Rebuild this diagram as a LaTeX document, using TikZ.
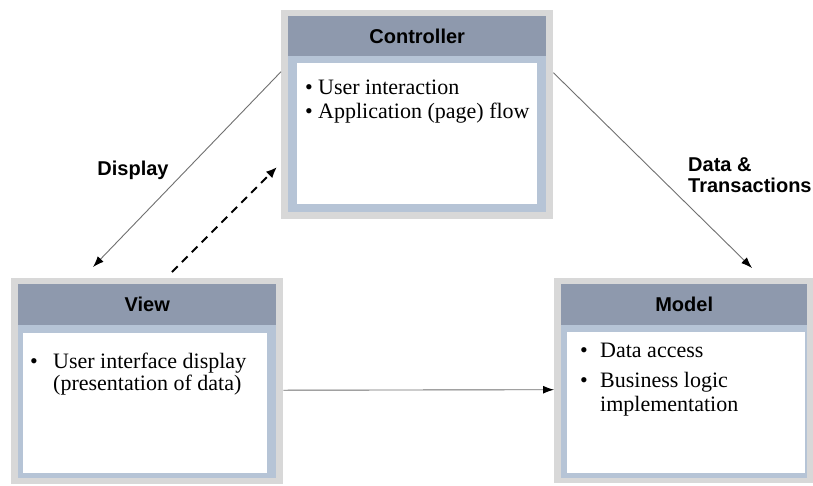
\documentclass[tikz,border=0pt]{standalone}
\usepackage{fontspec}
\setmainfont{Liberation Serif}
\newfontfamily\hsans{Liberation Sans}
\usetikzlibrary{arrows.meta}
\definecolor{outerc}{HTML}{D8D8D8}
\definecolor{framec}{HTML}{B6C4D6}
\definecolor{headc}{HTML}{8E99AD}
\definecolor{linec}{HTML}{707070}
\begin{document}
\begin{tikzpicture}[x=1pt,y=-1pt,
  outerbox/.style={fill=outerc, draw=none, inner sep=0pt, anchor=north west},
  framebox/.style={fill=framec, draw=none, inner sep=0pt, anchor=north west},
  headbox/.style={fill=headc, draw=none, inner sep=0pt, anchor=north west, font=\hsans\bfseries\fontsize{20}{22}\selectfont},
  bodybox/.style={fill=white, draw=none, inner sep=0pt, anchor=north west},
  bodytext/.style={anchor=base west, inner sep=0pt, font=\fontsize{22}{24}\selectfont},
  lbl/.style={inner sep=0pt, font=\hsans\bfseries\fontsize{20}{21}\selectfont, align=left},
  thinarrow/.style={draw=linec, line width=0.9pt, -{Latex[length=11pt,width=8pt,color=black]}},
  dasharrow/.style={draw=black, line width=2pt, dash pattern=on 8pt off 6pt, -{Latex[length=11pt,width=9pt]}}
]
\useasboundingbox (0,0) rectangle (813,485);
\fill[white] (0,0) rectangle (813,485);

% Controller
\node[outerbox, minimum width=272pt, minimum height=209pt] (ctrl) at (281,10) {};
\node[framebox, minimum width=258pt, minimum height=196pt] (ctrlframe) at (288,16) {};
\node[headbox, minimum width=258pt, minimum height=40pt] (ctrlhead) at (288,16) {Controller};
\node[bodybox, minimum width=240pt, minimum height=141pt] (ctrlbody) at (297,63) {};
\node[bodytext] (c1b) at (305,94) {\textbullet};
\node[bodytext] (c1) at (318,94) {User interaction};
\node[bodytext] (c2b) at (305,118) {\textbullet};
\node[bodytext] (c2) at (318,118) {Application (page) flow};

% View
\node[outerbox, minimum width=272pt, minimum height=206pt] (view) at (11,278) {};
\node[framebox, minimum width=258pt, minimum height=194pt] (viewframe) at (18,284) {};
\node[headbox, minimum width=258pt, minimum height=41pt] (viewhead) at (18,284) {View};
\node[bodybox, minimum width=244pt, minimum height=140pt] (viewbody) at (23,333) {};
\node[bodytext] (v1b) at (30,368) {\textbullet};
\node[bodytext] (v1) at (53,368) {User interface display};
\node[bodytext] (v2) at (53,390) {(presentation of data)};

% Model
\node[outerbox, minimum width=259pt, minimum height=205pt] (model) at (554,278) {};
\node[framebox, minimum width=246pt, minimum height=194pt] (modelframe) at (561,284) {};
\node[headbox, minimum width=246pt, minimum height=41pt] (modelhead) at (561,284) {Model};
\node[bodybox, minimum width=238pt, minimum height=141pt] (modelbody) at (567,332) {};
\node[bodytext] (m1b) at (580,357) {\textbullet};
\node[bodytext] (m1) at (600,357) {Data access};
\node[bodytext] (m2b) at (580,387) {\textbullet};
\node[bodytext] (m2) at (600,387) {Business logic};
\node[bodytext] (m3) at (600,411) {implementation};

% connectors
\coordinate (dispE) at (93,267);
\coordinate (dashS) at (172,272);
\coordinate (dashE) at (277,167);
\coordinate (dataE) at (752,268);
\draw[thinarrow] ([yshift=43pt]ctrl.west) -- (dispE);
\draw[dasharrow] (dashS) -- (dashE);
\draw[thinarrow] ([yshift=42pt]ctrl.east) -- (dataE);
\draw[thinarrow] ([yshift=-9pt]view.east) -- ([yshift=-9pt]model.west);

% labels
\node[lbl] (displbl) at (133,170) {Display};
\node[lbl, anchor=north west] (datalbl) at (688,157) {Data \&\\Transactions};
\end{tikzpicture}
\end{document}
